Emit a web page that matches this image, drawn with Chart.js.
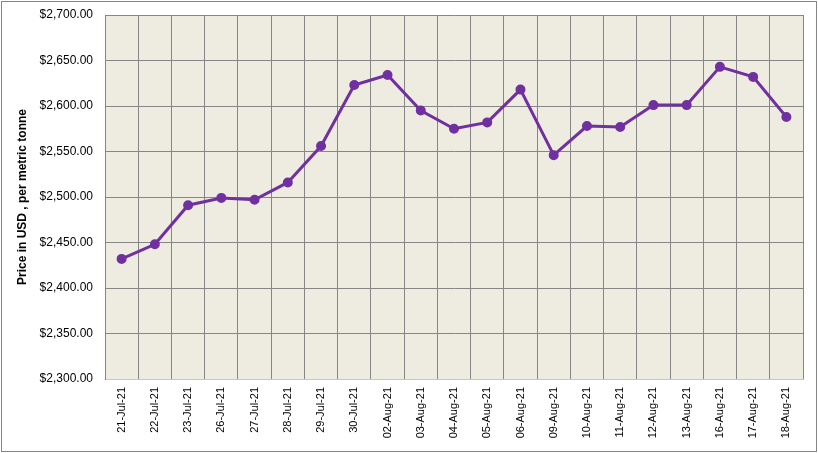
<!doctype html>
<html lang="en">
  <head>
    <meta charset="utf-8">
    <title>Price chart</title>
    <script src="https://cdn.jsdelivr.net/npm/chart.js"></script>
    <style>
      body { margin: 0; background: #fff; }
      #wrap { width: 818px; height: 453px; }
    </style>
  </head>
  <body>
    <div id="wrap"><canvas id="priceChart" width="818" height="453"></canvas></div>

    <script>
  // data
  const dates = ['21-Jul-21', '22-Jul-21', '23-Jul-21', '26-Jul-21', '27-Jul-21', '28-Jul-21', '29-Jul-21',
    '30-Jul-21', '02-Aug-21', '03-Aug-21', '04-Aug-21', '05-Aug-21', '06-Aug-21', '09-Aug-21',
    '10-Aug-21', '11-Aug-21', '12-Aug-21', '13-Aug-21', '16-Aug-21', '17-Aug-21', '18-Aug-21'];
  const prices = [2432, 2448, 2491, 2499, 2497, 2516, 2556, 2623, 2634, 2595, 2575, 2582, 2618, 2546,
    2578, 2577, 2601, 2601, 2643, 2632, 2588];
  const yMin = 2300;
  const yMax = 2700;
  const yStep = 50;
  const yTitle = 'Price in USD , per metric tonne';

  // plot background + outer frame
  const framePlugin = {
    id: 'frame',
    beforeDraw(chart) {
      const c = chart.ctx, a = chart.chartArea;
      c.save();
      c.fillStyle = '#fff';
      c.fillRect(0, 0, chart.width, chart.height);
      c.fillStyle = '#EEEBE0';
      c.fillRect(a.left, a.top, a.right - a.left, a.bottom - a.top);
      c.strokeStyle = '#868686';
      c.lineWidth = 1;
      c.strokeRect(1.5, 1.5, chart.width - 3, chart.height - 3);
      c.restore();
    }
  };

  const money = v => '$' + v.toLocaleString('en-US', { minimumFractionDigits: 2, maximumFractionDigits: 2 });

  const ctx = document.getElementById('priceChart').getContext('2d');
  new Chart(ctx, {
    type: 'line',
    data: {
      labels: dates,
      datasets: [{
        data: prices,
        borderColor: '#7030A0',
        backgroundColor: '#7030A0',
        borderWidth: 3,
        pointRadius: 3.5,
        pointHoverRadius: 3.5,
        tension: 0
      }]
    },
    options: {
      responsive: false,
      animation: false,
      layout: { padding: { left: 15, top: 15, right: 15, bottom: 0 } },
      plugins: { legend: { display: false }, tooltip: { enabled: false } },
      scales: {
        x: {
          offset: true,
          grid: { offset: true, color: '#868686', drawTicks: false },
          border: { color: '#B9C9E0', width: 1 },
          ticks: {
            color: '#000',
            font: { family: 'Liberation Sans', size: 11 },
            minRotation: 90,
            maxRotation: 90,
            padding: 8,
            autoSkip: false
          },
          afterFit(scale) { scale.height = 74; }
        },
        y: {
          min: yMin,
          max: yMax,
          grid: { color: '#868686', drawTicks: false },
          border: { color: '#868686' },
          ticks: {
            stepSize: yStep,
            color: '#000',
            padding: 12,
            font: { family: 'Liberation Sans', size: 12 },
            callback: v => money(v)
          },
          title: {
            display: true,
            text: yTitle,
            color: '#000',
            font: { family: 'Liberation Sans', size: 12, weight: 'bold' },
            padding: { top: 0, bottom: 0 }
          },
          afterFit(scale) {
            scale.width = 90;
            // the label overhang pushed the plot down; the padding option handles it
            scale.paddingTop = 0;
            scale.paddingBottom = 0;
          }
        }
      }
    },
    plugins: [framePlugin]
  });
  </script>
  </body>
</html>
